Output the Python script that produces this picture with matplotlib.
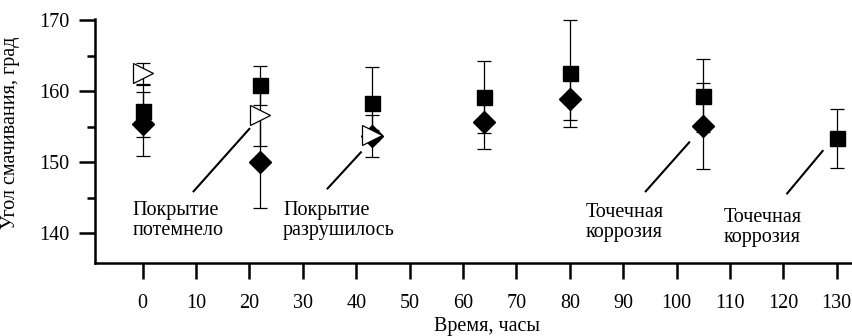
import matplotlib
matplotlib.use('Agg')
import matplotlib.pyplot as plt
from matplotlib.ticker import MultipleLocator

plt.rcParams['font.family'] = ['Liberation Serif', 'DejaVu Serif']

# Data: contact angle vs time
t_sq = [0, 22, 43, 64, 80, 105, 130]
ang_sq = [157.2, 160.8, 158.3, 159.15, 162.5, 159.35, 153.4]
err_sq = [3.6, 2.8, 5.15, 5.05, 7.5, 5.15, 4.15]

t_dia = [0, 22, 43, 64, 80, 105]
ang_dia = [155.4, 150.1, 153.7, 155.65, 158.9, 155.05]
err_dia = [4.5, 6.5, 3.0, 3.75, 2.9, 6.05]

t_tri = [0, 22, 43]
ang_tri = [162.5, 156.7, 153.8]
err_tri = [1.5, 4.4, 0.8]

# Annotations: text, text anchor, leader line ends
notes = ['Покрытие\nпотемнело', 'Покрытие\nразрушилось',
         'Точечная\nкоррозия', 'Точечная\nкоррозия']
note_xy = [(-1.85, 144.6), (26.3, 144.6), (82.9, 144.3), (108.9, 143.6)]
lead_x = [(9.4, 20.1), (34.5, 41.0), (94.1, 102.5), (120.6, 127.5)]
lead_y = [(145.8, 154.8), (146.2, 151.5), (145.8, 152.9), (145.5, 151.7)]

fig = plt.figure(figsize=(8.53, 3.36), dpi=100)
ax = fig.add_axes([95 / 853, 1 - 262.7 / 336, 1 - 95 / 853, (262.7 - 19.3) / 336])

ebkw = dict(ecolor='black', elinewidth=0.9, capsize=5.3, capthick=0.9, linestyle='none')
ax.errorbar(t_sq, ang_sq, yerr=err_sq, marker='s', ms=10.8, mfc='black', mec='black', zorder=3, **ebkw)
ax.errorbar(t_dia, ang_dia, yerr=err_dia, marker='D', ms=11, mfc='black', mec='black', zorder=4, **ebkw)
ax.errorbar(t_tri, ang_tri, yerr=err_tri, marker='>', ms=14, mfc='white', mec='black', mew=0.9, zorder=5, **ebkw)

for txt, (tx, ty), lx, ly in zip(notes, note_xy, lead_x, lead_y):
    ax.text(tx, ty, txt, fontsize=14.5, ha='left', va='top', linespacing=1.12)
    ax.plot(lx, ly, color='black', lw=1.5, solid_capstyle='butt')

ax.set_xlim(-8.94, 133.06)
ax.set_ylim(135.87, 170.1)
ax.set_xticks(range(0, 131, 10))
ax.set_yticks([140, 150, 160, 170])
ax.yaxis.set_minor_locator(MultipleLocator(5))
ax.tick_params(axis='both', which='major', direction='out', length=11.5, width=1.8, labelsize=14.5)
ax.tick_params(axis='x', pad=11)
ax.tick_params(axis='y', pad=7)
ax.tick_params(axis='y', which='minor', direction='out', length=5.8, width=1.8)

for s in ['top', 'right']:
    ax.spines[s].set_visible(False)
for s in ['left', 'bottom']:
    ax.spines[s].set_linewidth(1.8)

ax.set_ylabel('Угол смачивания, град', fontsize=14.5)
ax.yaxis.set_label_coords(-0.099, 0.533)
fig.text(486.7 / 853, 5 / 336, 'Время, часы', fontsize=14.5, ha='center', va='baseline')

fig.savefig('out.png', dpi=100)
